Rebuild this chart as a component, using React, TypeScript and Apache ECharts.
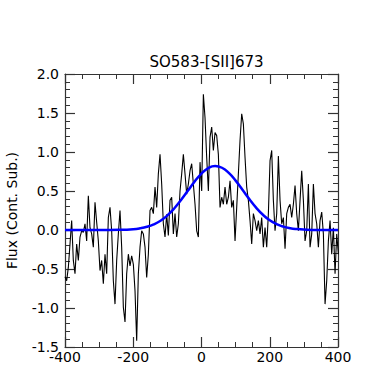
import React, { useEffect, useRef } from "react";
import * as echarts from "echarts";

const titleText = "SO583-[SII]673";
const yName = "Flux (Cont. Sub.)";

// Observed spectrum on a regular velocity grid (km/s)
const velStart = -400;
const velStep = 4.885;
const flux = [
  -0.6, -0.65, -0.48, -0.18, 0.12, -0.39, -0.56, -0.18, -0.39, -0.09,
  -0.01, -0.03, 0.08, -0.14, 0.44, 0.03, -0.05, -0.22, 0.355, 0.1,
  -0.14, -0.52, -0.39, -0.69, -0.31, -0.56, 0.16, 0.29, -0.01, -0.65,
  -0.95, -0.39, -0.05, 0.25, -0.22, -0.99, -1.18, -0.56, -0.31, -0.46,
  -0.33, -0.44, -0.78, -1.42, -0.56, -0.22, -0.01, -0.05, -0.22, -0.61,
  -0.31, 0.25, 0.29, 0.21, 0.55, 0.29, 0.72, 0.97, 0.59, 0.08,
  -0.09, 0.2, -0.07, 0.38, 0.42, -0.05, 0.21, -0.09, 0.08, 0.5,
  0.72, 0.97, 0.72, 0.46, 0.59, 0.76, 0.85, 0.59, 0.33, -0.01,
  -0.09, 0.87, 0.5, 1.74, 1.44, 0.93, 0.5, 1.19, 1.32, 1.02,
  1.25, 1.21, 0.97, 0.29, 0.42, 0.33, 0.55, 0.33, 0.42, 0.63,
  0.29, 0.38, -0.14, 0.29, 0.72, 1.15, 1.49, 1.36, 0.93, 0.55,
  0.38, 0.12, -0.18, 0.21, 0.12, -0.01, 0.12, -0.05, 0.16, -0.22,
  0.03, -0.22, 0.21, 0.89, 1.02, 0.38, -0.01, 0.21, 0.95, 0.38,
  0.08, 0.16, -0.24, 0.21, 0.29, 0.33, 0.16, 0.33, 0.57, 0.21,
  -0.01, 0.38, 0.76, 0.38, -0.14, -0.01, 0.59, -0.22, -0.05, 0.59,
  0.21, 0.08, -0.22, 0.12, 0.23, -0.05, -0.95, -0.65, -0.14, 0.12,
  -0.31, 0.03, -0.56, -0.05, -0.31,
];

// Gaussian fit curve
const fitVel = [
  -400, -300, -240, -200, -180, -160, -140, -120, -100, -80, -60, -40, -20,
  0, 20, 40, 60, 80, 100, 120, 140, 160, 180, 200, 220, 240, 260, 280, 300,
  340, 400,
];
const fitFlux = [
  0, 0, 0.003, 0.011, 0.022, 0.041, 0.072, 0.119, 0.187, 0.276, 0.384, 0.503,
  0.622, 0.724, 0.794, 0.82, 0.798, 0.732, 0.633, 0.516, 0.396, 0.286, 0.195,
  0.125, 0.076, 0.043, 0.023, 0.012, 0.006, 0.001, 0,
];

const xTicks = { min: -400, max: 400, interval: 200 };
const yTicks = { min: -1.5, max: 2.0, interval: 0.5 };

const FONT = "DejaVu Sans";
const FRAME = "#333";

export default function App() {
  const ref = useRef<HTMLDivElement>(null);
  useEffect(() => {
    if (!ref.current) return;
    const chart = echarts.init(ref.current, undefined, { renderer: "svg" });
    const specData = flux.map((f, i) => [velStart + i * velStep, f]);
    const fitData = fitVel.map((v, i) => [v, fitFlux[i]]);

    const axisCommon = {
      axisLine: { show: true, onZero: false, lineStyle: { color: FRAME, width: 1.2 } },
      axisTick: { show: true, inside: true, length: 10, lineStyle: { color: FRAME, width: 1.2 } },
      minorTick: { show: true, length: 5, lineStyle: { color: FRAME, width: 1 } },
      splitLine: { show: false },
      minorSplitLine: { show: false },
    };

    chart.setOption({
      animation: false,
      backgroundColor: "#fff",
      title: {
        text: titleText,
        left: 201.5,
        top: 49,
        textAlign: "center",
        textStyle: { fontFamily: FONT, fontSize: 15, fontWeight: "normal", color: "#000" },
      },
      grid: {
        left: 65,
        right: 39,
        top: 74,
        bottom: 22,
        containLabel: false,
        outerBoundsMode: "none",
      },
      xAxis: [
        {
          type: "value",
          position: "bottom",
          ...xTicks,
          ...axisCommon,
          minorTick: { ...axisCommon.minorTick, splitNumber: 4 },
          axisLabel: {
            show: true,
            margin: 3,
            fontFamily: FONT,
            fontSize: 14,
            color: "#000",
          },
          name: "{a|v (km s}{b|−1}{a|)}",
          nameLocation: "middle",
          nameGap: 19,
          nameTextStyle: {
            fontFamily: FONT,
            fontSize: 14,
            color: "#000",
            rich: {
              a: { fontFamily: FONT, fontSize: 14, color: "#000", lineHeight: 26, verticalAlign: "bottom" },
              b: { fontFamily: FONT, fontSize: 10, color: "#000", lineHeight: 10, verticalAlign: "top" },
            },
          },
        },
        {
          type: "value",
          position: "top",
          ...xTicks,
          ...axisCommon,
          minorTick: { ...axisCommon.minorTick, splitNumber: 4 },
          axisLabel: { show: false },
        },
      ],
      yAxis: [
        {
          type: "value",
          position: "left",
          ...yTicks,
          ...axisCommon,
          minorTick: { ...axisCommon.minorTick, splitNumber: 5 },
          axisLabel: {
            show: true,
            margin: 6,
            fontFamily: FONT,
            fontSize: 14,
            color: "#000",
            formatter: (v: number) => v.toFixed(1),
          },
          name: yName,
          nameLocation: "middle",
          nameGap: 46,
          nameRotate: 90,
          nameTextStyle: { fontFamily: FONT, fontSize: 14, color: "#000" },
        },
        {
          type: "value",
          position: "right",
          ...yTicks,
          ...axisCommon,
          minorTick: { ...axisCommon.minorTick, splitNumber: 5 },
          axisLabel: { show: false },
        },
      ],
      series: [
        {
          type: "line",
          xAxisIndex: 0,
          yAxisIndex: 0,
          data: specData,
          showSymbol: false,
          symbol: "none",
          clip: true,
          lineStyle: { color: "#000", width: 1.1 },
          z: 2,
        },
        {
          type: "line",
          xAxisIndex: 0,
          yAxisIndex: 0,
          data: fitData,
          smooth: true,
          showSymbol: false,
          symbol: "none",
          lineStyle: { color: "#0000ff", width: 2.5 },
          z: 3,
        },
      ],
    });
    return () => chart.dispose();
  }, []);
  return (
    <div
      ref={ref}
      style={{ position: "fixed", left: 0, top: 0, width: 377, height: 369, background: "#fff" }}
    />
  );
}
